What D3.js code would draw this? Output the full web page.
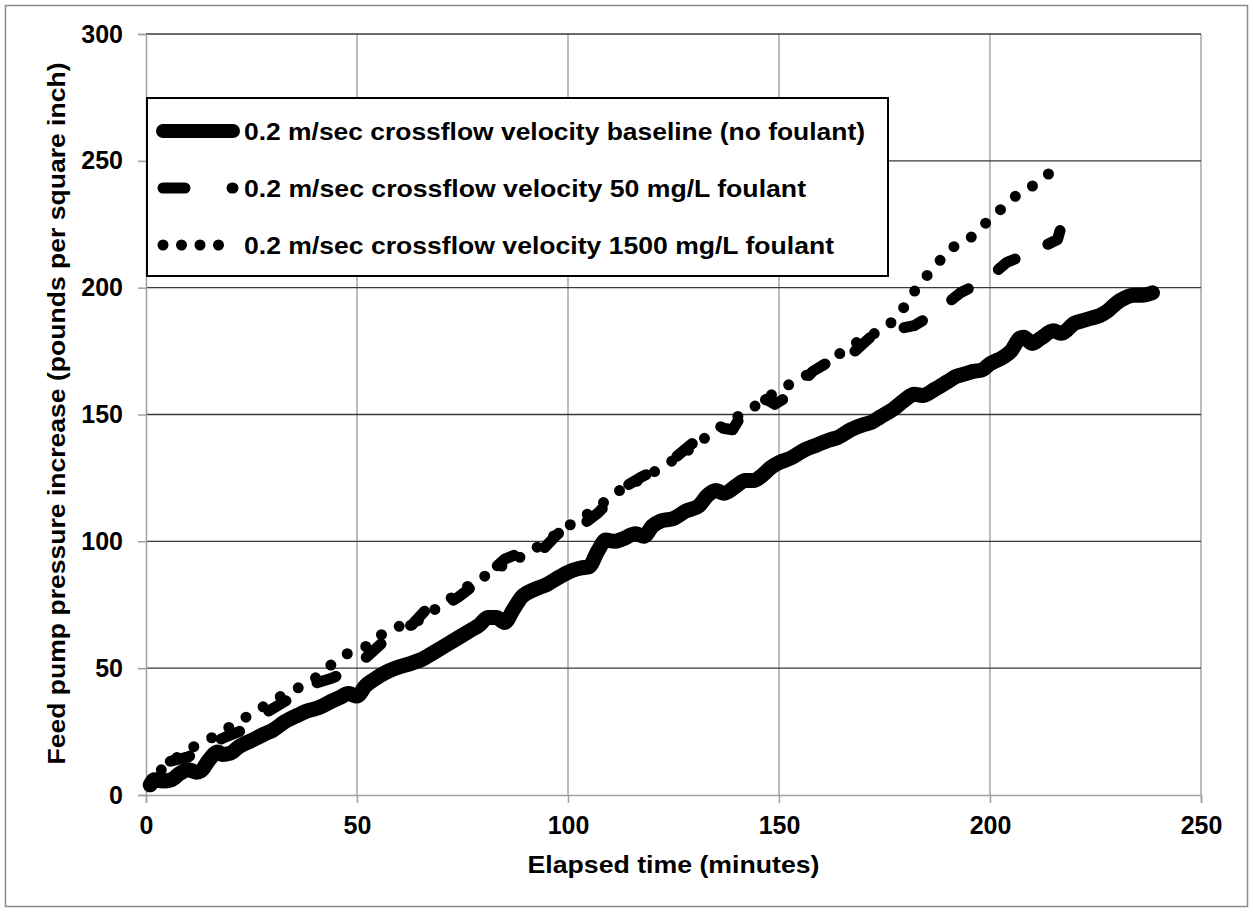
<!DOCTYPE html>
<html>
<head>
<meta charset="utf-8">
<script src="https://cdn.jsdelivr.net/npm/d3@7"></script>
<style>
  html, body { margin: 0; padding: 0; background: #fff; }
  svg { display: block; }
  text { font-family: "Liberation Sans", Arial, sans-serif; font-weight: bold; fill: #000; }
</style>
</head>
<body>
<svg id="chart" width="1253" height="912"></svg>
<script>
// ---- data ----
const xTicks = [0, 50, 100, 150, 200, 250];
const yTicks = [0, 50, 100, 150, 200, 250, 300];

const seriesNames = [
  "0.2 m/sec crossflow velocity baseline (no foulant)",
  "0.2 m/sec crossflow velocity 50 mg/L foulant",
  "0.2 m/sec crossflow velocity 1500 mg/L foulant"
];

// elapsed minutes, psi increase
const baseline = [
  [1,4],[2,6],[4,5.5],[6,6],[8,8.5],[10,10],[12,9],[13,9.5],[15,14],[17,17],[18,16],[20,16.5],
  [22,19],[25,21.5],[28,24],[30,25.5],[33,29],[36,31.5],[38,33],[41,34.5],[44,37],[46,38.5],
  [48,40],[50,39],[52,43],[54,45.5],[57,48.5],[60,50.5],[63,52],[66,54],[68,56],[71,59],[74,62],
  [77,65],[79,67],[81,70],[83,70],[85,68],[87,73],[89,78],[92,81],[95,83],[98,86],[101,88.5],
  [103,89.5],[105,90],[107,96],[109,100.5],[111,100],[113,101],[116,103],[118,102],[120,106],
  [122,108],[125,109],[128,112],[131,114],[133,118],[135,120],[137,119],[140,122],[142,124],
  [144,124],[146,126],[148,129],[150,131],[153,133],[156,136],[159,138],[162,140],[164,141],
  [167,144],[170,146],[172,147],[174,149],[177,152],[180,156],[182,158],[184,157.5],[187,160],
  [190,163],[192,165],[194,166],[196,167],[198,167.5],[200,170],[203,172.5],[205,175],[207,180],
  [208,180.5],[210,178],[212,180],[215,183],[217,182],[220,186],[222,187],[224,188],[226,189],
  [228,191],[230,194],[232,196],[234,197],[236,197],[238.5,198]
];

const foulant50 = [
  [1,6],[5,13],[10,15],[15,20],[19,23],[25,27],[29,33],[33,37],[37,41],[40,44],[44,46],[48,49],
  [52,54],[56,60],[60,66],[63,67],[68,76],[70,74],[74,78],[81,87],[85,93],[91,97],[93,95],
  [97,102],[101,108],[103,106],[107,111],[113,121],[117,125],[124,131],[129,138],[135,145],
  [139,144],[142,152],[147,156],[149,154],[153,158],[158,167],[161,170],[164,169],[170,178],
  [172,181],[176,183],[182,185],[187,190],[193,198],[199,203],[204,210],[210,214],[216,219],
  [216.6,222.5]
];

const foulant1500 = [
  [1,6],[5,12],[10,18],[15,22],[20,27],[24,31],[28,35],[32,39],[37,43],[41,47],[45,53],[49,57],
  [53,59],[57,65],[61,67],[65,69],[70,75],[76,82],[80,86],[84,90],[89,94],[94,99],[99,105],
  [104,110],[109,116],[113,121],[118,125],[122,129],[127,134],[131,139],[136,145],[141,150],
  [146,155],[150,160],[154,163],[158,167],[162,171],[166,176],[170,180],[174,183],[178,188],
  [181,196],[184,203],[187,208],[190,215],[195,219],[198,224],[202,230],[206,236],[210,240],
  [214,245]
];

// ---- drawing ----
const svg = d3.select("#chart");
const W = 1253, H = 912;
const plot = { left: 146, right: 1201, top: 34, bottom: 795 };

const x = d3.scaleLinear().domain([0, 250]).range([plot.left, plot.right]);
const y = d3.scaleLinear().domain([0, 300]).range([plot.bottom, plot.top]);

svg.append("rect").attr("x", 0).attr("y", 0).attr("width", W).attr("height", H).attr("fill", "#fff");
svg.append("rect").attr("x", 5.5).attr("y", 5.5).attr("width", 1242).attr("height", 901)
  .attr("fill", "none").attr("stroke", "#8c8c8c").attr("stroke-width", 1.5);

// vertical gridlines (gray)
svg.append("g").selectAll("line").data(xTicks.filter(d => d > 0)).join("line")
  .attr("x1", d => x(d)).attr("x2", d => x(d))
  .attr("y1", plot.top).attr("y2", plot.bottom)
  .attr("stroke", "#a6a6a6").attr("stroke-width", 1.5);

// horizontal gridlines (dark)
svg.append("g").selectAll("line").data(yTicks.filter(d => d > 0)).join("line")
  .attr("x1", plot.left).attr("x2", plot.right)
  .attr("y1", d => y(d)).attr("y2", d => y(d))
  .attr("stroke", "#3a3a3a").attr("stroke-width", 1.3);

// axes
const yAxis = svg.append("g").attr("transform", `translate(${plot.left},0)`)
  .call(d3.axisLeft(y).tickValues(yTicks).tickSize(8).tickPadding(15).tickFormat(d3.format("d")));
const xAxis = svg.append("g").attr("transform", `translate(0,${plot.bottom})`)
  .call(d3.axisBottom(x).tickValues(xTicks).tickSize(8).tickPadding(13).tickFormat(d3.format("d")));
[yAxis, xAxis].forEach(a => {
  a.select(".domain").attr("stroke", "#a0a0a0").attr("stroke-width", 1.5);
  a.selectAll(".tick line").attr("stroke", "#a0a0a0").attr("stroke-width", 1.5);
  a.selectAll(".tick text").attr("font-size", 25).attr("font-family", "Liberation Sans, Arial, sans-serif")
    .attr("font-weight", "bold").attr("fill", "#000");
});

// series
const line = d3.line().x(d => x(d[0])).y(d => y(d[1]));
const g = svg.append("g");
g.append("path").datum(baseline).attr("d", d3.line().x(d => x(d[0])).y(d => y(d[1])).curve(d3.curveMonotoneX))
  .attr("fill", "none").attr("stroke", "#000").attr("stroke-width", 15)
  .attr("stroke-linecap", "round").attr("stroke-linejoin", "round");

function patterned(data, w, dash, gap) {
  const p = g.append("path").datum(data).attr("d", line)
    .attr("fill", "none").attr("stroke", "#000").attr("stroke-width", w)
    .attr("stroke-dasharray", dash + " " + gap)
    .attr("stroke-linecap", "round").attr("stroke-linejoin", "round");
  const L = p.node().getTotalLength();
  const period = dash + gap;
  // align the pattern so the last data point ends a dash / sits on a dot
  const target = Math.max(dash, 0.8);
  const off = ((target - (L % period)) % period + period) % period;
  p.attr("stroke-dashoffset", off);
  return p;
}
patterned(foulant50, 11, 20, 36);
patterned(foulant1500, 11, 0, 20);

// axis titles
svg.append("text").attr("x", (plot.left + plot.right) / 2).attr("y", 873)
  .attr("text-anchor", "middle").attr("font-size", 24)
  .attr("textLength", 292).attr("lengthAdjust", "spacingAndGlyphs")
  .text("Elapsed time (minutes)");
svg.append("text").attr("transform", `translate(65,${(plot.top + plot.bottom) / 2 - 1}) rotate(-90)`)
  .attr("text-anchor", "middle").attr("font-size", 24)
  .attr("textLength", 702).attr("lengthAdjust", "spacingAndGlyphs")
  .text("Feed pump pressure increase (pounds per square inch)");

// legend
const leg = svg.append("g");
leg.append("rect").attr("x", 147).attr("y", 98).attr("width", 741).attr("height", 178)
  .attr("fill", "#fff").attr("stroke", "#000").attr("stroke-width", 2);
const legRows = [
  { y: 131, dash: null, w: 14, len: 621 },
  { y: 188, dash: "22 47", w: 11, len: 562 },
  { y: 245, dash: "0 18.5", w: 11, len: 590 }
];
legRows.forEach((r, i) => {
  const l = leg.append("line").attr("x1", 163).attr("x2", 233).attr("y1", r.y).attr("y2", r.y)
    .attr("stroke", "#000").attr("stroke-width", r.w).attr("stroke-linecap", "round");
  if (r.dash) l.attr("stroke-dasharray", r.dash);
  leg.append("text").attr("x", 244).attr("y", r.y + 8.5).attr("font-size", 24)
    .attr("textLength", r.len).attr("lengthAdjust", "spacingAndGlyphs")
    .text(seriesNames[i]);
});
</script>
</body>
</html>
